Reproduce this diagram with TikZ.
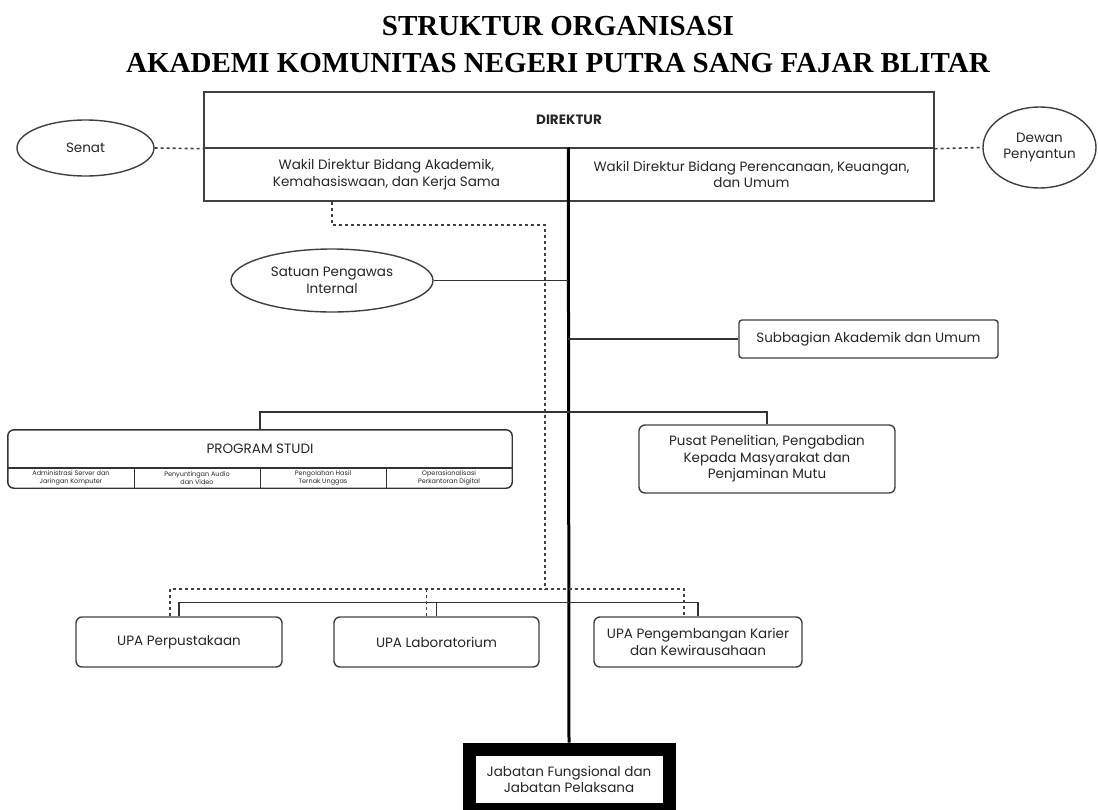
\documentclass[tikz,border=0pt]{standalone}
\usepackage{fontspec}
\setmainfont{Poppins}
\newfontfamily\judulfont{Liberation Serif}
\usetikzlibrary{shapes.geometric,positioning}

\tikzset{
  teks/.style={align=center, text=black!85, inner sep=0pt,
    font=\fontsize{13.5}{16.5}\selectfont},
  kotak/.style={teks, draw=black!75, line width=1.4pt},
  rkotak/.style={kotak, rounded corners=6pt},
  elips/.style={teks, ellipse, draw=black!75, line width=1.4pt},
  garis/.style={draw=black!80, line width=1.4pt},
  batang/.style={draw=black, line width=3pt},
  titik/.style={draw=black!75, line width=1.6pt, dash pattern=on 3pt off 3pt},
  kecil/.style={teks, font=\fontsize{6.5}{8}\selectfont},
}

\begin{document}
\begin{tikzpicture}[x=1pt,y=-1pt]
  \useasboundingbox (0,0) rectangle (1098,809);
  %judul
  \node[anchor=base, font=\judulfont\bfseries\fontsize{29}{32}\selectfont] (judul1) at (558,35) {STRUKTUR ORGANISASI};
  \node[anchor=base, font=\judulfont\bfseries\fontsize{29}{32}\selectfont] (judul2) at (558,72) {AKADEMI KOMUNITAS NEGERI PUTRA SANG FAJAR BLITAR};
  %pimpinan
  \node[kotak, minimum width=730pt, minimum height=56pt] (dir) at (569,120) {\bfseries DIREKTUR};
  \node[kotak, minimum width=365pt, minimum height=53pt] (wakila) at (386.5,174.5) {Wakil Direktur Bidang Akademik,\\Kemahasiswaan, dan Kerja Sama};
  \node[kotak, minimum width=365pt, minimum height=53pt] (wakilb) at (751.5,174.5) {Wakil Direktur Bidang Perencanaan, Keuangan,\\dan Umum};
  \node[elips, minimum width=137pt, minimum height=56pt] (senat) at (85.5,148) {Senat};
  \node[elips, minimum width=113pt, minimum height=81pt] (dewan) at (1039.5,147.5) {Dewan\\Penyantun};
  %unit
  \node[elips, minimum width=202pt, minimum height=63pt] (spi) at (332,280.5) {Satuan Pengawas\\Internal};
  \node[kotak, rounded corners=3pt, minimum width=259pt, minimum height=38pt] (sub) at (868.5,339) {Subbagian Akademik dan Umum};
  \node[rkotak, minimum width=256pt, minimum height=68pt] (pusat) at (767,459) {Pusat Penelitian, Pengabdian\\Kepada Masyarakat dan\\Penjaminan Mutu};
  %program studi
  \node[teks, minimum width=504pt, minimum height=38pt] (prodi) at (260,449) {PROGRAM STUDI};
  \node[kecil, minimum width=126pt, minimum height=20pt] (ps1) at (71,478) {Administrasi Server dan\\Jaringan Komputer};
  \node[kecil, minimum width=126pt, minimum height=20pt] (ps2) at (197,478) {Penyuntingan Audio\\dan Video};
  \node[kecil, minimum width=126pt, minimum height=20pt] (ps3) at (323,478) {Pengolahan Hasil\\Ternak Unggas};
  \node[kecil, minimum width=126pt, minimum height=20pt] (ps4) at (449,478) {Operasionalisasi\\Perkantoran Digital};
  \draw[garis, rounded corners=6pt] (prodi.north west) rectangle (ps4.south east);
  \draw[garis] (ps1.north west) -- (ps4.north east);
  \foreach \i in {1,2,3}
    \draw[garis] (ps\i.north east) -- (ps\i.south east);
  %upa
  \node[rkotak, minimum width=206pt, minimum height=50pt] (upa1) at (179,642) {UPA Perpustakaan};
  \node[rkotak, minimum width=205pt, minimum height=50pt] (upa2) at (436.5,642) {UPA Laboratorium};
  \node[rkotak, minimum width=208pt, minimum height=50pt] (upa3) at (698,642) {UPA Pengembangan Karier\\dan Kewirausahaan};
  \node[teks, draw=black, line width=13pt, minimum width=200pt, minimum height=60.5pt] (jab) at (569,779.25) {Jabatan Fungsional dan\\Jabatan Pelaksana};
  %garis
  \draw[batang] (wakilb.north west) -- (jab.north);
  \draw[titik] (senat.east) -- (dir.south west);
  \draw[titik] (dir.south east) -- (dewan.west);
  \draw[garis] (spi.east) -- (spi.east -| wakilb.north west);
  \draw[garis] (sub.west) -- (sub.west -| wakilb.north west);
  \draw[garis] (prodi.north) -- ++(0,-18) -| (pusat.north);
  \draw[garis] (upa1.north) -- ++(0,-14) -| (upa3.north);
  \draw[garis] (upa2.north) -- ++(0,-14);
  %koordinasi
  \coordinate (dsudut) at (545,225);
  \coordinate (dkanan) at (684,589);
  \draw[titik] ([xshift=-54.5pt]wakila.south) |- (dsudut) -- (dsudut |- dkanan);
  \draw[titik] ([xshift=-9pt]upa1.north) |- (dkanan) -- ([xshift=-14pt]upa3.north);
  \draw[titik] ([xshift=-10pt]upa2.north) -- ([xshift=-10pt]upa2.north |- dkanan);
\end{tikzpicture}
\end{document}
